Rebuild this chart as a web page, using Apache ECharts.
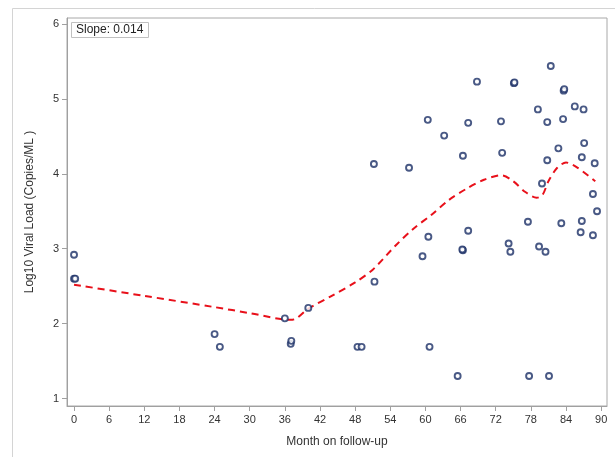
<!DOCTYPE html>
<html>
<head>
<meta charset="utf-8">
<script src="https://cdn.jsdelivr.net/npm/echarts@6/dist/echarts.min.js"></script>
<style>html,body{margin:0;padding:0;background:#fff}#c{width:615px;height:457px}</style>
</head>
<body>
<div id="c"></div>
<script>
// Scatter observations: [month, log10 viral load]
const monthVals = [0,0,0.2,24.0,24.9,36.0,37.0,37.1,40.0,48.4,49.1,51.3,51.2,57.2,59.5,60.5,60.4,60.7,63.2,65.5,66.4,66.3,66.4,67.3,67.3,68.8,72.9,73.1,74.2,74.5,75.1,75.2,77.5,77.7,79.2,79.4,79.9,80.5,80.8,80.8,81.1,81.4,82.7,83.2,83.5,83.6,83.7,85.5,86.5,86.7,86.7,87.0,87.1,88.6,88.6,88.9,89.3];
const loadVals  = [2.92,2.60,2.60,1.86,1.69,2.07,1.73,1.77,2.21,1.69,1.69,2.56,4.13,4.08,2.90,3.16,4.72,1.69,4.51,1.30,2.98,2.99,4.24,3.24,4.68,5.23,4.70,4.28,3.07,2.96,5.21,5.22,3.36,1.30,4.86,3.03,3.87,2.96,4.69,4.18,1.30,5.44,4.34,3.34,4.73,5.11,5.13,4.90,3.22,3.37,4.22,4.86,4.41,3.18,3.73,4.14,3.50];
// Smoothed fit (dashed red)
const fitMonths = [0,12,24,30,37,38,40,44,48,51,55,58,61,64,67,70,73,75,77,79,80,81,82.5,84,86,89];
const fitVals   = [2.52,2.37,2.22,2.14,2.05,2.07,2.2,2.37,2.55,2.72,3.05,3.27,3.45,3.65,3.8,3.92,3.98,3.9,3.76,3.68,3.72,3.9,4.08,4.15,4.08,3.9];
const xTicks = [0,6,12,18,24,30,36,42,48,54,60,66,72,78,84,90];
const yTicks = [1,2,3,4,5,6];
const slopeText = 'Slope: 0.014';

const scatterData = monthVals.map((m,i)=>[m, loadVals[i]]);
const fitData = fitMonths.map((m,i)=>[m, fitVals[i]]);
const font = 'Liberation Sans, Arial, sans-serif';

const chart = echarts.init(document.getElementById('c'), null, {renderer:'canvas'});
chart.setOption({
  animation:false,
  backgroundColor:'#fff',
  title:{
    text:slopeText, left:71, top:22, padding:[2,5,2,5],
    borderColor:'#c0c0c0', borderWidth:1,
    textStyle:{fontSize:12, fontWeight:'normal', color:'#222', fontFamily:font, lineHeight:12}
  },
  graphic:[{type:'rect', shape:{x:12.5,y:8.5,width:620,height:470}, style:{fill:'none', stroke:'#d4d4d4', lineWidth:1}, silent:true}],
  grid:{left:67, right:8, top:18, bottom:51, show:true, borderColor:'#a8a8a8', borderWidth:1},
  xAxis:{
    type:'value', min:-1.2, max:91,
    name:'Month on follow-up', nameLocation:'middle', nameGap:30,
    nameTextStyle:{fontSize:12, color:'#333', fontFamily:font},
    axisLine:{show:true, onZero:false, lineStyle:{color:'#a0a0a0'}},
    axisTick:{show:true, length:5, lineStyle:{color:'#a0a0a0'}, customValues:xTicks},
    axisLabel:{fontSize:11, color:'#333', margin:8, fontFamily:font, customValues:xTicks},
    splitLine:{show:false}
  },
  yAxis:{
    type:'value', min:0.9, max:6.08,
    name:'Log10 Viral Load (Copies/ML )', nameLocation:'middle', nameGap:31,
    nameTextStyle:{fontSize:12, color:'#333', fontFamily:font},
    axisLine:{show:true, onZero:false, lineStyle:{color:'#a0a0a0'}},
    axisTick:{show:true, length:5, lineStyle:{color:'#a0a0a0'}, customValues:yTicks},
    axisLabel:{fontSize:11, color:'#333', margin:8, fontFamily:font, customValues:yTicks},
    splitLine:{show:false}
  },
  series:[
    {type:'line', data:fitData, showSymbol:false, smooth:0.3, z:3,
     lineStyle:{color:'#e8101a', width:2, type:[7,5]}},
    {type:'scatter', data:scatterData, symbol:'circle', symbolSize:6, z:4,
     itemStyle:{color:'#ffffff', borderColor:'#1c2f66', borderWidth:1.9}}
  ]
});
</script>
</body>
</html>
